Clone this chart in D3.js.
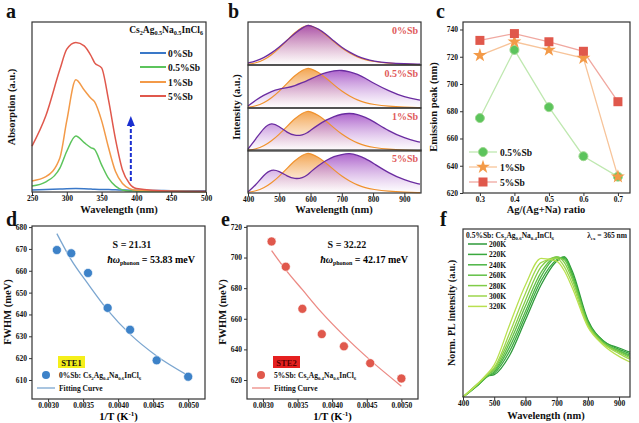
<!DOCTYPE html>
<html><head><meta charset="utf-8">
<script src="https://cdn.jsdelivr.net/npm/d3@7"></script>
<style>body{margin:0;background:#fff}svg{font-family:"Liberation Serif","DejaVu Serif",serif;font-weight:bold}</style>
</head><body><svg id="s" width="639" height="423"></svg>
<script>
// ---- data ----
const aWave=[250,270,290,300,313,325,335,340,350,360,370,380,390,400,450,500];
const aRed=[0.27,0.45,0.72,0.84,0.88,0.86,0.8,0.76,0.73,0.54,0.31,0.13,0.05,0.02,0.005,0.003];
const aOrange=[0.065,0.09,0.2,0.42,0.66,0.6,0.55,0.53,0.42,0.26,0.12,0.05,0.02,0.01,0.004,0.003];
const aGreen=[0.035,0.06,0.14,0.24,0.33,0.29,0.26,0.25,0.16,0.08,0.035,0.012,0.006,0.005,0.003,0.002];
const aBlue=[0.012,0.014,0.017,0.019,0.02,0.019,0.017,0.016,0.015,0.014,0.013,0.012,0.011,0.01,0.008,0.007];
const aLabels=["0%Sb","0.5%Sb","1%Sb","5%Sb"];
const bWave=[400,425,450,475,500,525,550,575,590,600,625,650,675,700,725,750,775,800,850,900,950];
const bOrange=[0.02,0.05,0.12,0.25,0.42,0.62,0.82,0.96,1,0.99,0.9,0.75,0.58,0.42,0.3,0.2,0.13,0.09,0.04,0.02,0.01];
const bPurple0=[0.05,0.1,0.18,0.3,0.45,0.62,0.8,0.94,1,0.99,0.91,0.77,0.6,0.44,0.32,0.22,0.15,0.1,0.05,0.03,0.02];
const bPurple05=[0.05,0.2,0.32,0.42,0.48,0.51,0.56,0.64,0.69,0.73,0.82,0.89,0.94,0.95,0.91,0.85,0.75,0.63,0.43,0.27,0.2];
const bPurple1=[0.05,0.3,0.58,0.72,0.62,0.46,0.38,0.4,0.46,0.52,0.66,0.78,0.87,0.93,0.95,0.92,0.85,0.75,0.5,0.32,0.22];
const bPurple5=[0.03,0.2,0.45,0.6,0.55,0.42,0.35,0.38,0.45,0.53,0.69,0.82,0.92,0.97,1,0.95,0.87,0.75,0.5,0.32,0.22];
const cRatio=[0.3,0.4,0.5,0.6,0.7];
const c05=[675,725,683,647,632], c1=[721,731,725,719,632], c5=[732,737,731,724,687];
const invT=[0.003125,0.00333,0.00357,0.00385,0.00417,0.00455,0.005];
const dFWHM=[669.5,668,659,643,633,619,611.5];
const dFit=[677,665,654,642,631,621,612];
const eFWHM=[710.5,694,666.5,650,642,631,621];
const eFit=[704.5,692,679,664,649,633,616];
const fWave=[400,450,480,500,550,600,650,700,725,750,800,850,900,935];
const fTemps=["200K","220K","240K","260K","280K","300K","320K"];
const f200=[0,.09,.15,.16,.3,.55,.8,.97,1,.9,.55,.4,.35,.32];
const f220=[0,.09,.15,.17,.33,.58,.83,.98,1,.88,.54,.4,.34,.31];
const f240=[0,.09,.15,.18,.36,.61,.86,.99,.99,.87,.53,.39,.33,.3];
const f260=[0,.1,.16,.19,.39,.65,.89,1,.98,.86,.53,.39,.33,.29];
const f280=[0,.1,.16,.2,.42,.69,.93,1,.96,.84,.52,.38,.32,.28];
const f300=[0,.1,.17,.21,.46,.74,.96,.99,.93,.81,.51,.38,.31,.27];
const f320=[0,.1,.17,.23,.52,.8,.99,.97,.9,.78,.5,.37,.29,.25];
const fColors=["#2e9a3a","#3aa83e","#4cb544","#62c046","#80cc48","#9dd64c","#b9e050"];

const svg=d3.select("#s");
const defs=svg.append("defs");
function grad(id,c){const g=defs.append("linearGradient").attr("id",id).attr("x1",0).attr("x2",0).attr("y1",0).attr("y2",1);
 g.append("stop").attr("offset","0%").attr("stop-color",c).attr("stop-opacity",0.95);
 g.append("stop").attr("offset","100%").attr("stop-color","#fff").attr("stop-opacity",0.6);}
grad("gp","#9a3fc0");grad("go","#f2a048");
function box(x0,y0,x1,y1){svg.append("rect").attr("x",x0).attr("y",y0).attr("width",x1-x0).attr("height",y1-y0).attr("fill","none").attr("stroke","#333").attr("stroke-width",1.2);}
function txt(x,y,t,o={}){return svg.append("text").attr("x",x).attr("y",y).attr("font-size",o.fs||9).attr("text-anchor",o.a||"start").attr("fill",o.c||"#111").attr("transform",o.r?`rotate(-90,${x},${y})`:null).text(t);}
function sub(x,y,parts,o={}){const fs=o.fs||9;const t=svg.append("text").attr("x",x).attr("y",y).attr("font-size",fs).attr("text-anchor",o.a||"start").attr("fill","#111");
 let down=false;
 parts.forEach(p=>{if(typeof p==="string"){t.append("tspan").attr("dy",down?-2:0).text(p);down=false;}
  else{t.append("tspan").attr("font-size",fs*0.65).attr("dy",down?0:2).text(p[0]);down=true;}});return t;}
function xAxis(sc,y,vals,fmt){const g=svg.append("g").attr("transform",`translate(0,${y})`).call(d3.axisBottom(sc).tickValues(vals).tickFormat(fmt).tickSize(3).tickPadding(1).tickSizeOuter(0));
 g.select(".domain").remove();g.selectAll("text").attr("font-size",7.5).attr("font-family","Liberation Serif").attr("font-weight","bold").attr("fill","#111");g.selectAll("line").attr("stroke","#333");}
function yAxis(sc,x,vals){const g=svg.append("g").attr("transform",`translate(${x},0)`).call(d3.axisLeft(sc).tickValues(vals).tickSize(3).tickPadding(2).tickSizeOuter(0));
 g.select(".domain").remove();g.selectAll("text").attr("font-size",7.5).attr("font-family","Liberation Serif").attr("font-weight","bold").attr("fill","#111");g.selectAll("line").attr("stroke","#333");}
function letter(x,y,t){txt(x,y,t,{fs:20});}

// ---- panel a ----
{const x=d3.scaleLinear().domain([250,500]).range([32,206]),y=d3.scaleLinear().domain([0,1]).range([192,22]);
 const ln=d3.line().x((d,i)=>x(aWave[i])).y(d=>y(d)).curve(d3.curveMonotoneX);
 [[aBlue,"#3a78c8"],[aGreen,"#5cc45c"],[aOrange,"#f39a48"],[aRed,"#e0584c"]].forEach(([s,c])=>svg.append("path").attr("d",ln(s)).attr("fill","none").attr("stroke",c).attr("stroke-width",1.5));
 svg.append("line").attr("x1",x(392)).attr("x2",x(392)).attr("y1",181).attr("y2",126).attr("stroke","#1a2fd0").attr("stroke-width",2).attr("stroke-dasharray","4,2");
 svg.append("path").attr("d",`M${x(392)-4},126 L${x(392)+4},126 L${x(392)},116 Z`).attr("fill","#1a2fd0");
 box(32,22,206,192);xAxis(x,192,[250,300,350,400,450,500],d3.format("d"));
 sub(203,33,["Cs",["2"],"Ag",["0.5"],"Na",["0.5"],"InCl",["6"]],{fs:9.5,a:"end"});
 [["#3a78c8",53],["#5cc45c",67],["#f39a48",82],["#e0584c",96]].forEach(([c,yy],i)=>{svg.append("line").attr("x1",140).attr("x2",166).attr("y1",yy).attr("y2",yy).attr("stroke",c).attr("stroke-width",2);txt(168,yy+3.5,aLabels[i],{fs:9.5});});
 txt(119,213,"Wavelength (nm)",{fs:10.5,a:"middle"});txt(15,107,"Absorption (a.u.)",{fs:10.5,a:"middle",r:1});letter(6,18,"a");}

// ---- panel b ----
{const x=d3.scaleLinear().domain([400,950]).range([248,420]);
 const tops=[22,65,108,150],h=43,purples=[bPurple0,bPurple05,bPurple1,bPurple5];
 tops.forEach((t,k)=>{const y=d3.scaleLinear().domain([0,1.03]).range([t+h,t+2]);
  const ar=d3.area().x((d,i)=>x(bWave[i])).y0(t+h).y1(d=>y(d)).curve(d3.curveBasis);
  const ln=d3.line().x((d,i)=>x(bWave[i])).y(d=>y(d)).curve(d3.curveBasis);
  svg.append("path").attr("d",ar(bOrange)).attr("fill","url(#go)");
  svg.append("path").attr("d",ar(purples[k])).attr("fill","url(#gp)").attr("opacity",0.85);
  svg.append("path").attr("d",ln(bOrange)).attr("fill","none").attr("stroke","#f0922e").attr("stroke-width",1.2);
  svg.append("path").attr("d",ln(purples[k])).attr("fill","none").attr("stroke","#6a2ca0").attr("stroke-width",1.3);
  box(248,t,421,t+h);txt(418,t+12,aLabels[k],{fs:10,a:"end",c:"#e05a5a"});});
 xAxis(x,193,[400,500,600,700,800,900],d3.format("d"));
 txt(334,213,"Wavelength (nm)",{fs:10.5,a:"middle"});txt(240,107,"Intensity (a.u.)",{fs:10.5,a:"middle",r:1});letter(228,18,"b");}

// ---- panel c ----
{const x=d3.scaleLinear().domain([0.251,0.735]).range([463,630]),y=d3.scaleLinear().domain([620,745.5]).range([193,22]);
 const ser=[[c05,"#5cc45c","#bfe8b0","c"],[c1,"#f39a48","#f7c49a","s"],[c5,"#e0584c","#f0a8a0","q"]];
 ser.forEach(([s,c,lc])=>{svg.append("path").attr("d",d3.line().x((d,i)=>x(cRatio[i])).y(d=>y(d))(s)).attr("fill","none").attr("stroke",lc).attr("stroke-width",1.3);});
 function mark(m,cx,cy,c){if(m==="c")svg.append("circle").attr("cx",cx).attr("cy",cy).attr("r",4.5).attr("fill",c).attr("stroke","#9ed890");
  else if(m==="s")svg.append("path").attr("d",d3.symbol(d3.symbolStar,60)()).attr("transform",`translate(${cx},${cy})`).attr("fill",c);
  else svg.append("rect").attr("x",cx-4.5).attr("y",cy-4.5).attr("width",9).attr("height",9).attr("fill",c);}
 ser.forEach(([s,c,lc,m])=>s.forEach((d,i)=>mark(m,x(cRatio[i]),y(d),c)));
 box(463,22,630,193);xAxis(x,193,cRatio,d3.format(".1f"));yAxis(y,463,[620,640,660,680,700,720,740]);
 [["0.5%Sb",152],["1%Sb",167],["5%Sb",182]].forEach(([t,yy],i)=>{svg.append("line").attr("x1",469).attr("x2",497).attr("y1",yy).attr("y2",yy).attr("stroke",ser[i][2]).attr("stroke-width",1.3);mark(ser[i][3],483,yy,ser[i][1]);txt(500,yy+3.5,t,{fs:9.5});});
 txt(546,213,"Ag/(Ag+Na) ratio",{fs:10.5,a:"middle"});txt(437,107,"Emission peak (nm)",{fs:10.5,a:"middle",r:1});letter(436,18,"c");}

// ---- panels d, e ----
function fw(x0,x1,dom,pts,fit,col,dark,yt,S,hw,ste,steCol,steTxt,lg,L){
 const x=d3.scaleLinear().domain([0.00277,0.00524]).range([x0,x1]),y=d3.scaleLinear().domain(dom).range([399,226]);
 svg.append("path").attr("d",d3.line().x((d,i)=>x(invT[i])).y(d=>y(d)).curve(d3.curveMonotoneX)(fit)).attr("fill","none").attr("stroke",col).attr("stroke-width",1.3);
 pts.forEach((d,i)=>svg.append("circle").attr("cx",x(invT[i])).attr("cy",y(d)).attr("r",4.5).attr("fill",dark).attr("stroke","#fff").attr("stroke-width",0.6));
 box(x0,226,x1,399);xAxis(x,399,[0.003,0.0035,0.004,0.0045,0.005],d3.format(".4f"));yAxis(y,x0,yt);
 txt(x0+100,248,"S = "+S,{fs:10,a:"middle"});
 const t=svg.append("text").attr("x",x1-10).attr("y",263).attr("text-anchor","end").attr("font-size",10);
 t.append("tspan").attr("font-style","italic").text("ħω");t.append("tspan").attr("font-size",6).attr("dy",2).text("phonon");t.append("tspan").attr("dy",-2).text(" = "+hw+" meV");
 svg.append("rect").attr("x",x0+26).attr("y",356).attr("width",27).attr("height",12).attr("fill",steCol);txt(x0+39.5,365.5,ste,{fs:8.5,a:"middle",c:steTxt});
 svg.append("circle").attr("cx",x0+14).attr("cy",375).attr("r",4).attr("fill",dark);
 sub(x0+27,378,lg,{fs:7.5});
 svg.append("line").attr("x1",x0+5).attr("x2",x0+23).attr("y1",388).attr("y2",388).attr("stroke",col).attr("stroke-width",1.3);
 txt(x0+27,391,"Fitting Curve",{fs:7.5});
 const tl=svg.append("text").attr("x",(x0+x1)/2).attr("y",420).attr("text-anchor","middle").attr("font-size",10.5);tl.append("tspan").text("1/T (K");tl.append("tspan").attr("font-size",7).attr("dy",-4).text("-1");tl.append("tspan").attr("dy",4).text(")");
 txt(x0-21,312,"FWHM (meV)",{fs:10.5,a:"middle",r:1});letter(x0-26,226,L);}
fw(32,205,[601.3,680.5],dFWHM,dFit,"#7ba6d0","#3d82c8",[610,620,630,640,650,660,670,680],"21.31","53.83","STE1","#f5ef1a","#111",["0%Sb: Cs",["2"],"Ag",["0.4"],"Na",["0.6"],"InCl",["6"]],"d");
fw(247,418,[607.6,720.6],eFWHM,eFit,"#ec8a84","#e0584c",[620,640,660,680,700,720],"32.22","42.17","STE2","#e52020","#5a0000",["5%Sb: Cs",["2"],"Ag",["0.4"],"Na",["0.6"],"InCl",["6"]],"e");

// ---- panel f ----
{const x=d3.scaleLinear().domain([400,935]).range([463,630]),y=d3.scaleLinear().domain([0,1.2]).range([397,229]);
 const fs=[f200,f220,f240,f260,f280,f300,f320];
 const ln=d3.line().x((d,i)=>x(fWave[i])).y(d=>y(d)).curve(d3.curveMonotoneX);
 fs.forEach((s,k)=>svg.append("path").attr("d",ln(s)).attr("fill","none").attr("stroke",fColors[k]).attr("stroke-width",1.3));
 box(463,229,630,397);xAxis(x,397,[400,500,600,700,800,900],d3.format("d"));
 sub(466,238,["0.5%Sb: Cs",["2"],"Ag",["0.6"],"Na",["0.4"],"InCl",["6"]],{fs:7.5});
 sub(627,238,["λ",["ex"]," = 365 nm"],{fs:7.5,a:"end"});
 fTemps.forEach((t,k)=>{const yy=244+k*10.4;svg.append("line").attr("x1",468).attr("x2",487).attr("y1",yy).attr("y2",yy).attr("stroke",fColors[k]).attr("stroke-width",1.5);txt(489,yy+3,t,{fs:7.5});});
 txt(546,419,"Wavelength (nm)",{fs:10.5,a:"middle"});txt(455,313,"Norm. PL intensity (a.u.)",{fs:10,a:"middle",r:1});letter(440,226,"f");}
</script></body></html>
